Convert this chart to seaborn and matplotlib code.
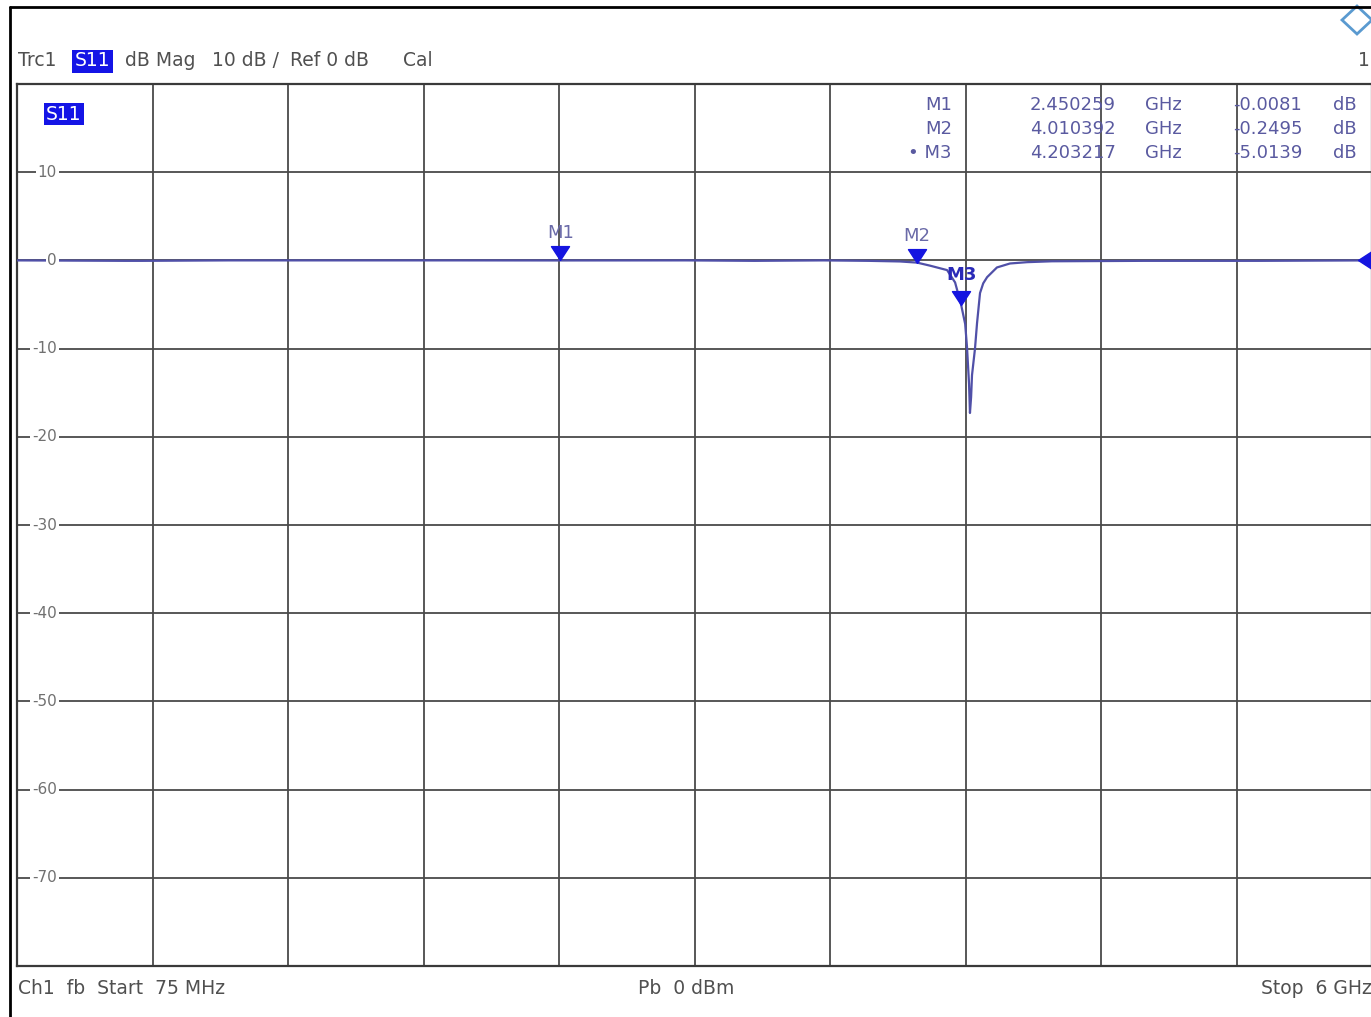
import matplotlib
matplotlib.use("Agg")
import matplotlib.pyplot as plt
import seaborn as sns
import pandas as pd
from matplotlib.patches import Rectangle, Polygon
from matplotlib.lines import Line2D
from matplotlib.transforms import blended_transform_factory

# ---- sweep data (S11, dB magnitude) ----
freq_ghz = [0.075, 0.55, 0.62, 1.0, 1.5, 2.0, 2.450259, 3.0, 3.3, 3.6, 3.8,
            3.936, 4.010392, 4.068, 4.142, 4.177, 4.203217, 4.221, 4.229,
            4.238, 4.242, 4.247, 4.251, 4.264, 4.273, 4.286, 4.300, 4.317,
            4.360, 4.417, 4.492, 4.600, 5.000, 5.500, 6.000]
s11_db = [0.0, -0.05, -0.05, 0.0, 0.0, 0.0, -0.0081, 0.0, -0.05, 0.0, -0.05,
          -0.12, -0.2495, -0.6, -1.1, -2.5, -5.0139, -7.2, -9.8,
          -14.0, -17.3, -15.5, -13.0, -10.0, -7.1, -3.7, -2.6, -1.9,
          -0.8, -0.35, -0.2, -0.1, -0.05, -0.05, 0.0]

# markers
marker_names = ["M1", "M2", "M3"]
marker_freq = [2.450259, 4.010392, 4.203217]
marker_db = [-0.0081, -0.2495, -5.0139]

# axis settings
f_start, f_stop = 0.075, 6.0
y_ticks = [10, 0, -10, -20, -30, -40, -50, -60, -70]
y_min, y_max = -80, 20

W, H = 1371, 1017
sns.set_style("white")
plt.rcParams["font.family"] = ["DejaVu Sans"]

fig = plt.figure(figsize=(W / 100, H / 100), dpi=100)
fig.patch.set_facecolor("white")


def fx(px):
    return px / W


def fy(py):
    return 1 - py / H


ax = fig.add_axes([fx(17), fy(966), (1372 - 17) / W, (966 - 84) / H])

df = pd.DataFrame({"freq": freq_ghz, "db": s11_db})
sns.lineplot(data=df, x="freq", y="db", ax=ax, color="#5050a8", linewidth=1.6,
             zorder=4)

ax.set_xlim(f_start, f_stop)
ax.set_ylim(y_min, y_max)
step = (f_stop - f_start) / 10
ax.set_xticks([f_start + k * step for k in range(1, 10)])
ax.set_yticks(y_ticks)
ax.tick_params(length=0, labelleft=False, labelbottom=False)
ax.set_xlabel("")
ax.set_ylabel("")
ax.grid(True, color="#4a4a4a", linewidth=1.3)
ax.set_axisbelow(True)
for s in ax.spines.values():
    s.set_color("#3a3a3a")
    s.set_linewidth(1.6)

# y-axis labels drawn on the gridlines
ytr = blended_transform_factory(ax.transAxes, ax.transData)
for v in y_ticks:
    ax.text((57 - 17) / 1355, v, f"{v}", transform=ytr, ha="right", va="center",
            fontsize=11, color="#707070", zorder=5,
            bbox=dict(boxstyle="square,pad=0.12", fc="white", ec="none"))

# marker triangles with the tip on the trace
tri_down = [(0, 0), (-0.65, 1.0), (0.65, 1.0), (0, 0)]
for name, f, d in zip(marker_names, marker_freq, marker_db):
    ax.plot([f], [d], marker=tri_down, markersize=20, color="#1515e0",
            linestyle="none", zorder=6)
    if name == "M3":
        ax.annotate(name, (f, d), xytext=(0, 21), textcoords="offset points",
                    ha="center", va="center", fontsize=13, fontweight="bold",
                    color="#2a2ab8", zorder=7)
    else:
        ax.annotate(name, (f, d), xytext=(0, 19.5), textcoords="offset points",
                    ha="center", va="center", fontsize=13, color="#6a6aa8",
                    zorder=7)

# reference level marker at the right edge
tri_left = [(0, 0), (1.0, 0.65), (1.0, -0.65), (0, 0)]
ax.plot([f_stop - 0.06], [0], marker=tri_left, markersize=22, color="#1515e0",
        linestyle="none", clip_on=False, zorder=6)

# trace label inside the diagram
fig.patches.append(Rectangle((fx(44), fy(125)), 40 / W, 22 / H,
                             transform=fig.transFigure, fc="#1414e6", ec="none"))
fig.text(fx(64), fy(114), "S11", ha="center", va="center", fontsize=13.5,
         color="white")

# marker table
tab_color = "#5a5aa0"
rows_y = [105, 129, 153]
tab_names = ["M1", "M2", "\u2022 M3"]
tab_freq = ["2.450259", "4.010392", "4.203217"]
tab_val = ["-0.0081", "-0.2495", "-5.0139"]
for y, n, fr, v in zip(rows_y, tab_names, tab_freq, tab_val):
    fig.text(fx(952), fy(y), n, ha="right", va="center", fontsize=13,
             color=tab_color)
    fig.text(fx(1116), fy(y), fr, ha="right", va="center", fontsize=13,
             color=tab_color)
    fig.text(fx(1145), fy(y), "GHz", ha="left", va="center", fontsize=13,
             color=tab_color)
    fig.text(fx(1233), fy(y), v, ha="left", va="center", fontsize=13,
             color=tab_color)
    fig.text(fx(1333), fy(y), "dB", ha="left", va="center", fontsize=13,
             color=tab_color)

# header line
hdr = "#505050"
fig.text(fx(18), fy(61), "Trc1", ha="left", va="center", fontsize=13.5, color=hdr)
fig.patches.append(Rectangle((fx(72), fy(73)), 41 / W, 23 / H,
                             transform=fig.transFigure, fc="#1414e6", ec="none"))
fig.text(fx(92.5), fy(61), "S11", ha="center", va="center", fontsize=13.5,
         color="white")
fig.text(fx(125), fy(61), "dB Mag", ha="left", va="center", fontsize=13.5, color=hdr)
fig.text(fx(212), fy(61), "10 dB /", ha="left", va="center", fontsize=13.5, color=hdr)
fig.text(fx(290), fy(61), "Ref 0 dB", ha="left", va="center", fontsize=13.5, color=hdr)
fig.text(fx(403), fy(61), "Cal", ha="left", va="center", fontsize=13.5, color=hdr)
fig.text(fx(1370), fy(61), "1", ha="right", va="center", fontsize=13.5, color=hdr)

# footer line
fig.text(fx(18), fy(989), "Ch1  fb  Start  75 MHz", ha="left", va="center",
         fontsize=13.5, color=hdr)
fig.text(fx(638), fy(989), "Pb  0 dBm", ha="left", va="center", fontsize=13.5,
         color=hdr)
fig.text(fx(1372), fy(989), "Stop  6 GHz", ha="right", va="center",
         fontsize=13.5, color=hdr)

# instrument logo
fig.patches.append(Polygon([(fx(1342), fy(20)), (fx(1357), fy(6)),
                            (fx(1372), fy(20)), (fx(1357), fy(34))],
                           closed=True, transform=fig.transFigure,
                           fc="white", ec="#5a9ad0", lw=2))

# screen frame
fig.add_artist(Line2D([fx(10), fx(10)], [fy(7), 0], transform=fig.transFigure,
                      color="black", lw=2))
fig.add_artist(Line2D([fx(10), 1], [fy(7), fy(7)], transform=fig.transFigure,
                      color="black", lw=2))

fig.savefig("out.png", dpi=100, facecolor="white")
